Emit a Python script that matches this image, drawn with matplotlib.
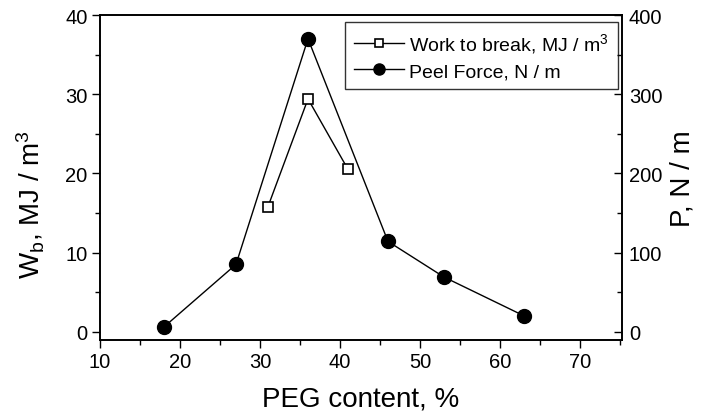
import numpy as np
import matplotlib
matplotlib.use("Agg")
import matplotlib.pyplot as plt
from matplotlib.ticker import MultipleLocator

plt.rcParams['font.family'] = ['Liberation Sans', 'DejaVu Sans']
plt.rcParams['mathtext.fontset'] = 'custom'
plt.rcParams['mathtext.rm'] = 'Liberation Sans'
plt.rcParams['mathtext.default'] = 'regular'

# Work to break (MJ/m^3) vs PEG content
peg_wb = [31, 36, 41]
work_to_break = [15.8, 29.4, 20.5]

# Peel force (N/m) vs PEG content
peg_peel = [18, 27, 36, 46, 53, 63]
peel_force = [6, 85, 370, 114, 69, 20]

fig = plt.figure(figsize=(7.06, 4.14), dpi=100)
ax = fig.add_axes([100 / 706, 1 - 341 / 414, 522 / 706, 325 / 414])
ax2 = ax.twinx()

l1, = ax.plot(peg_wb, work_to_break, '-', color='black', lw=1.0,
              marker='s', ms=7, mfc='white', mec='black', mew=1.2)
l2, = ax2.plot(peg_peel, peel_force, '-', color='black', lw=1.0,
               marker='o', ms=10, mfc='black', mec='black')

ax.set_xlim(10, 75.25)
ax.set_ylim(-1.05, 40)
ax2.set_ylim(-10.5, 400)

ax.xaxis.set_major_locator(MultipleLocator(10))
ax.xaxis.set_minor_locator(MultipleLocator(5))
ax.yaxis.set_major_locator(MultipleLocator(10))
ax.yaxis.set_minor_locator(MultipleLocator(5))
ax2.yaxis.set_major_locator(MultipleLocator(100))
ax2.yaxis.set_minor_locator(MultipleLocator(50))

# left and bottom ticks point out, right-hand ticks point in
ax.tick_params(which='major', direction='out', length=6, width=1.0,
               labelsize=14.5, pad=3)
ax.tick_params(which='minor', direction='out', length=3.5, width=1.0)
ax2.tick_params(which='major', direction='in', length=6, width=1.0,
                labelsize=14.5, pad=5)
ax2.tick_params(which='minor', direction='in', length=3.5, width=1.0)
for s in ax.spines.values():
    s.set_linewidth(1.2)
for s in ax2.spines.values():
    s.set_linewidth(1.2)
ax.tick_params(axis='x', top=False)

ax.set_xlabel('PEG content, %', fontsize=20, labelpad=10)
ax.set_ylabel('W$_b$, MJ / m$^3$', fontsize=20, labelpad=13)
ax.yaxis.label.set_y(0.42)
ax2.set_ylabel('P, N / m', fontsize=20, labelpad=5)

leg = ax.legend([l1, l2], ['Work to break, MJ / m$^3$', 'Peel Force, N / m'],
                loc='upper right', bbox_to_anchor=(0.992, 0.978), fontsize=14,
                frameon=True, fancybox=False, edgecolor='black',
                handlelength=2.6, handletextpad=0.25, borderpad=0.45,
                labelspacing=0.4, markerscale=0.8, borderaxespad=0)
leg.get_frame().set_linewidth(1.0)

fig.savefig('out.png', dpi=100)
